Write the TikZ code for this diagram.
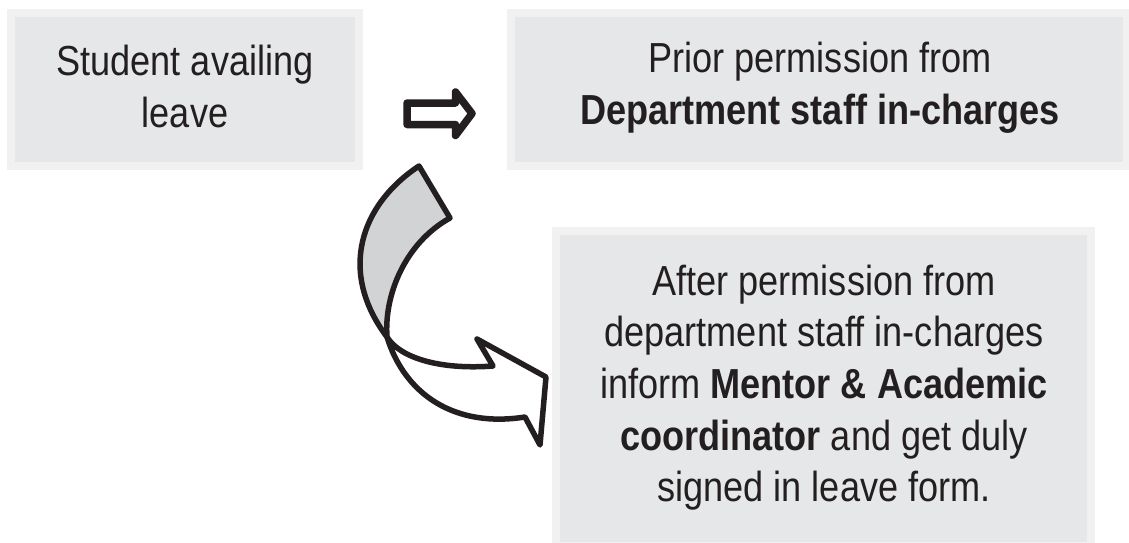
\documentclass[tikz,border=0pt]{standalone}
\usepackage{fontspec}
\setmainfont{Liberation Sans}[FakeStretch=0.86]
\definecolor{boxin}{HTML}{E6E7E8}
\definecolor{boxout}{HTML}{F1F1F2}
\definecolor{ink}{HTML}{231F20}
\definecolor{ribbon}{HTML}{D1D3D4}
\tikzset{
  panel/.style={rectangle, inner sep=0pt, fill=boxin, draw=boxout, line width=8pt},
  label text/.style={inner sep=0pt, align=center, text=ink, font=\fontsize{42}{51.7}\selectfont},
  arrow shape/.style={draw=ink, line join=round, fill=white},
}
\begin{document}
\begin{tikzpicture}[x=1pt,y=-1pt]
\useasboundingbox (0,0) rectangle (1129,542);
% boxes
\node[panel, minimum width=348pt, minimum height=153pt] (b1) at (185,89.5) {};
\node[panel, minimum width=616pt, minimum height=153pt] (b2) at (819,89.5) {};
\node[panel, minimum width=535pt, minimum height=315pt] (b3) at (823.5,388.5) {};
% texts
\node[label text] (t1) at (185,86.4) {Student availing\\leave};
\node[label text] (t2) at (820,88) {Prior permission from\\\textbf{Department staff in-charges}};
\node[label text] (t3) at (824,387.6) {After permission from\\department staff in-charges\\inform \textbf{Mentor \& Academic}\\\textbf{coordinator} and get duly\\signed in leave form.};
% straight block arrow
\draw[arrow shape, line width=7.5pt]
  (407,103) -- (455.5,103) -- (455.5,92) -- (472,113.5) -- (455.5,135.5)
  -- (455.5,124.5) -- (407,124.5) -- cycle;
% curved twisted arrow
\coordinate (A) at (419,166);
\coordinate (B) at (450,218);
\coordinate (C) at (387,337);
\draw[arrow shape, line width=5.5pt]
  (C) .. controls (400,358) and (440,370) .. (493,366)
  -- (477,339) -- (546,377) -- (540,445) -- (525,417)
  .. controls (455,428) and (405,395) .. (C) -- cycle;
\draw[arrow shape, fill=ribbon, line width=5.5pt]
  (A) -- (B) .. controls (405,243) and (384,295) .. (C)
  .. controls (338,272) and (360,205) .. (A) -- cycle;
\end{tikzpicture}
\end{document}
